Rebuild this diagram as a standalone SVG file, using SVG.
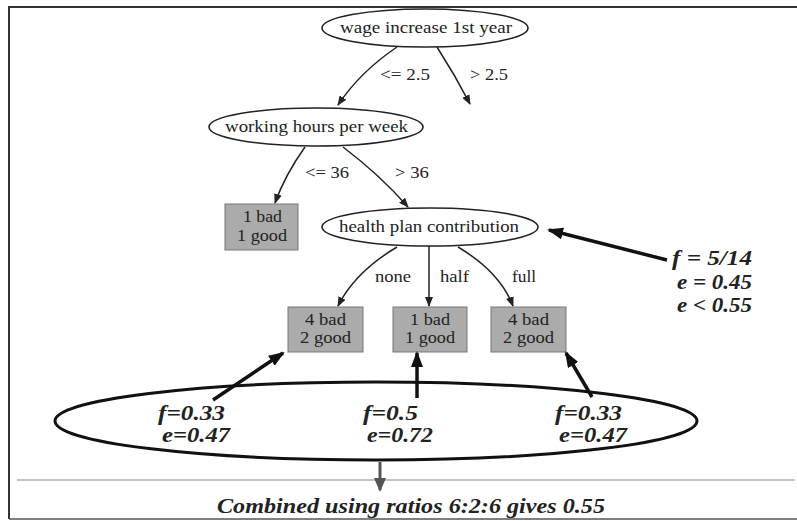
<svg xmlns="http://www.w3.org/2000/svg" width="797" height="521" viewBox="0 0 797 521">
<defs>
<marker id="ah" markerWidth="10" markerHeight="8" refX="9" refY="4" orient="auto" markerUnits="userSpaceOnUse">
<path d="M0,0 L10,4 L0,8 z" fill="#222"/>
</marker>
<marker id="ahb" markerWidth="16" markerHeight="12" refX="14" refY="6" orient="auto" markerUnits="userSpaceOnUse">
<path d="M0,0 L16,6 L0,12 z" fill="#111"/>
</marker>
<marker id="ahg" markerWidth="14" markerHeight="12" refX="12" refY="6" orient="auto" markerUnits="userSpaceOnUse">
<path d="M0,0 L14,6 L0,12 z" fill="#555"/>
</marker>
</defs>
<style>
.node{fill:#fff;stroke:#222;stroke-width:1.6}
.leaf{fill:#ababab;stroke:#777;stroke-width:1}
.t{font-family:"Liberation Serif","Times New Roman",serif;font-size:16px;fill:#222}
.lbl{font-family:"Liberation Serif","Times New Roman",serif;font-size:16px;fill:#222}
.e{fill:none;stroke:#222;stroke-width:1.5;marker-end:url(#ah)}
.b{fill:none;stroke:#111;stroke-width:3.5;marker-end:url(#ahb)}
.bi{font-family:"Liberation Serif","Times New Roman",serif;font-weight:bold;font-style:italic;font-size:20px;fill:#222}
</style>
<rect width="797" height="521" fill="#fff"/>
<!-- frame -->
<path d="M9,519 L9,7 L797,7" fill="none" stroke="#333" stroke-width="2"/>
<line x1="9" y1="519" x2="797" y2="519" stroke="#555" stroke-width="1.5"/>
<line x1="17" y1="480" x2="795" y2="480" stroke="#888" stroke-width="1.2"/>

<g id="edges">
<path class="e" d="M397,47 Q360,72 338,105"/>
<path class="e" d="M437,47 Q455,75 470,104"/>
<path class="e" d="M305,147 Q285,175 275,203"/>
<path class="e" d="M343,147 Q380,175 408,207"/>
<path class="e" d="M397,247 Q355,272 338,306"/>
<path class="e" d="M429,246 L429,306"/>
<path class="e" d="M458,247 Q500,272 513,306"/>
<text class="lbl" x="380" y="80" textLength="50" lengthAdjust="spacingAndGlyphs">&lt;= 2.5</text>
<text class="lbl" x="470" y="80" textLength="38" lengthAdjust="spacingAndGlyphs">&gt; 2.5</text>
<text class="lbl" x="305" y="178" textLength="44" lengthAdjust="spacingAndGlyphs">&lt;= 36</text>
<text class="lbl" x="395" y="178" textLength="34" lengthAdjust="spacingAndGlyphs">&gt; 36</text>
<text class="lbl" x="375" y="282" textLength="36" lengthAdjust="spacingAndGlyphs">none</text>
<text class="lbl" x="440" y="282" textLength="29" lengthAdjust="spacingAndGlyphs">half</text>
<text class="lbl" x="512" y="282" textLength="24" lengthAdjust="spacingAndGlyphs">full</text>
</g>

<g id="n-wage">
<ellipse class="node" cx="425" cy="28" rx="103" ry="19"/>
<text class="t" x="340" y="33" textLength="172" lengthAdjust="spacingAndGlyphs">wage increase 1st year</text>
</g>
<g id="n-hours">
<ellipse class="node" cx="316" cy="127" rx="107" ry="19"/>
<text class="t" x="225" y="132" textLength="183" lengthAdjust="spacingAndGlyphs">working hours per week</text>
</g>
<g id="n-leaf1">
<rect class="leaf" x="225" y="204" width="73" height="46"/>
<text class="t" x="243" y="222" textLength="39" lengthAdjust="spacingAndGlyphs">1 bad</text>
<text class="t" x="237" y="241" textLength="50" lengthAdjust="spacingAndGlyphs">1 good</text>
</g>
<g id="n-health">
<ellipse class="node" cx="430" cy="227" rx="108" ry="19"/>
<text class="t" x="339" y="232" textLength="180" lengthAdjust="spacingAndGlyphs">health plan contribution</text>
</g>
<g id="n-leaf2">
<rect class="leaf" x="288" y="307" width="75" height="45"/>
<text class="t" x="305" y="325" textLength="41" lengthAdjust="spacingAndGlyphs">4 bad</text>
<text class="t" x="300" y="343" textLength="51" lengthAdjust="spacingAndGlyphs">2 good</text>
</g>
<g id="n-leaf3">
<rect class="leaf" x="393" y="307" width="74" height="45"/>
<text class="t" x="410" y="325" textLength="40" lengthAdjust="spacingAndGlyphs">1 bad</text>
<text class="t" x="405" y="343" textLength="50" lengthAdjust="spacingAndGlyphs">1 good</text>
</g>
<g id="n-leaf4">
<rect class="leaf" x="491" y="307" width="75" height="45"/>
<text class="t" x="508" y="325" textLength="41" lengthAdjust="spacingAndGlyphs">4 bad</text>
<text class="t" x="503" y="343" textLength="51" lengthAdjust="spacingAndGlyphs">2 good</text>
</g>

<g id="n-combo">
<ellipse cx="376" cy="421" rx="321" ry="39" fill="none" stroke="#111" stroke-width="3"/>
<text class="bi" x="158" y="420" textLength="67" lengthAdjust="spacingAndGlyphs">f=0.33</text>
<text class="bi" x="162" y="442" textLength="68" lengthAdjust="spacingAndGlyphs">e=0.47</text>
<text class="bi" x="363" y="420" textLength="55" lengthAdjust="spacingAndGlyphs">f=0.5</text>
<text class="bi" x="367" y="442" textLength="66" lengthAdjust="spacingAndGlyphs">e=0.72</text>
<text class="bi" x="555" y="420" textLength="67" lengthAdjust="spacingAndGlyphs">f=0.33</text>
<text class="bi" x="559" y="442" textLength="68" lengthAdjust="spacingAndGlyphs">e=0.47</text>
</g>

<g id="annotations">
<path class="b" d="M213,400 L283,353"/>
<path class="b" d="M417,398 L417,353"/>
<path class="b" d="M592,397 L566,353"/>
<path class="b" d="M667,260 L549,230"/>
<path d="M380,462 L380,490" fill="none" stroke="#555" stroke-width="3" marker-end="url(#ahg)"/>
<text class="bi" x="672" y="265" textLength="80" lengthAdjust="spacingAndGlyphs">f = 5/14</text>
<text class="bi" x="677" y="289" textLength="75" lengthAdjust="spacingAndGlyphs">e = 0.45</text>
<text class="bi" x="677" y="312" textLength="75" lengthAdjust="spacingAndGlyphs">e &lt; 0.55</text>
<text class="bi" x="217" y="513" font-size="21" textLength="388" lengthAdjust="spacingAndGlyphs">Combined using ratios 6:2:6 gives 0.55</text>
</g>
</svg>
